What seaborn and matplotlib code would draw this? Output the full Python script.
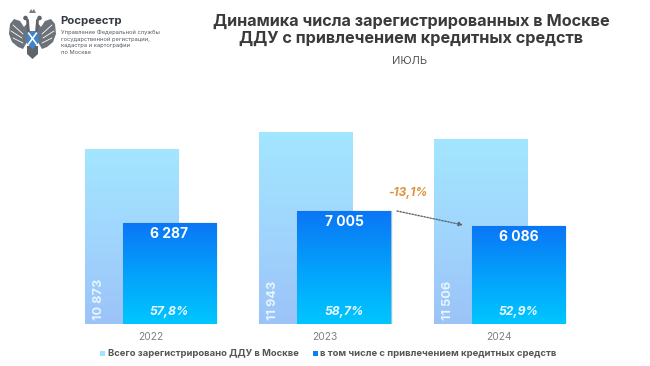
import numpy as np
import pandas as pd
import matplotlib
matplotlib.use('Agg')
import matplotlib.pyplot as plt
from matplotlib.colors import LinearSegmentedColormap
from matplotlib.patches import Polygon, Circle, Rectangle
import seaborn as sns

years = ['2022', '2023', '2024']
total = [10873, 11943, 11506]
credit = [6287, 7005, 6086]
total_labels = ['10 873', '11 943', '11 506']
credit_labels = ['6 287', '7 005', '6 086']
shares = ['57,8%', '58,7%', '52,9%']
change = '-13,1%'
name_total = 'Всего зарегистрировано ДДУ в Москве'
name_credit = 'в том числе с привлечением кредитных средств'

sns.set_theme(style='white')
plt.rcParams['font.family'] = ['Inter', 'DejaVu Sans']

W, H = 650, 366
fig = plt.figure(figsize=(6.5, 3.66), dpi=100)
# pixel-positioned plot area: categories every 174.5px, baseline at y=324
ax = fig.add_axes([63.25 / W, (H - 324) / H, 523.5 / W, 204 / H])

df = pd.DataFrame({
    'year': years * 2,
    'value': total + credit,
    'kind': [name_total] * 3 + [name_credit] * 3,
})
sns.barplot(data=df, x='year', y='value', hue='kind', dodge=True, width=0.4355,
            gap=-1.47, palette=['#a5e3ff', '#0a80f5'], legend=False, ax=ax,
            saturation=1, errorbar=None)
ax.set_ylim(0, 12670)
ax.set_xlim(-0.5, 2.5)
xl, yl = ax.get_xlim(), ax.get_ylim()

cm_light = LinearSegmentedColormap.from_list('l', ['#a3e6ff', '#a0d6fd', '#9cc3f8'])
cm_dark = LinearSegmentedColormap.from_list('d', ['#0a76f6', '#04a0fb', '#00c6ff'])
grad = np.linspace(0, 1, 128).reshape(-1, 1)
bars = [p for p in ax.patches if p.get_height() > 0]
for i, p in enumerate(bars):
    light = i < 3
    x0, x1 = p.get_x(), p.get_x() + p.get_width()
    z = 2 if light else 4
    p.set_zorder(z)
    if not light:
        p.set_edgecolor('#9cc0d6')
        p.set_linewidth(1.0)
    im = ax.imshow(grad, extent=[x0, x1, 0, p.get_height()], origin='upper', aspect='auto',
                   cmap=cm_light if light else cm_dark, zorder=z + 0.5)
    im.set_clip_path(p)
ax.set_xlim(xl)
ax.set_ylim(yl)

sns.despine(ax=ax, left=True, bottom=True)
ax.set_xlabel('')
ax.set_ylabel('')
ax.set_yticks([])
ax.tick_params(axis='x', length=0, pad=6, labelsize=7.4, labelcolor='#808080')

for i in range(3):
    light, dark = bars[i], bars[i + 3]
    ax.text(light.get_x() + light.get_width() * 0.15, 250, total_labels[i], rotation=90,
            ha='center', va='bottom', color='#e6f5ff', fontsize=9.2, fontweight='bold', zorder=6)
    cx = dark.get_x() + dark.get_width() / 2
    ax.text(cx, credit[i] - 690, credit_labels[i], ha='center', va='center', color='white',
            fontsize=10, fontweight='bold', zorder=6)
    ax.text(cx, 740, shares[i], ha='center', va='center', color='#e8f8ff', fontsize=8.8,
            fontweight='bold', fontstyle='italic', zorder=6)

# overlay in pixels for the header, logo, arrow and legend
ov = fig.add_axes([0, 0, 1, 1], zorder=10)
ov.set_xlim(0, W)
ov.set_ylim(H, 0)
ov.axis('off')
ov.patch.set_alpha(0)

ov.text(411, 21, 'Динамика числа зарегистрированных в Москве', ha='center', va='center',
        fontsize=11.7, fontweight='bold', color='#3a3a3a')
ov.text(411, 38, 'ДДУ с привлечением кредитных средств', ha='center', va='center',
        fontsize=11.7, fontweight='bold', color='#3a3a3a')
ov.text(410, 61, 'ИЮЛЬ', ha='center', va='center', fontsize=8, color='#555555')

ov.text(408, 193, change, ha='center', va='center', fontsize=8.5, fontweight='bold',
        fontstyle='italic', color='#e0923a')
ov.annotate('', xy=(463, 225), xytext=(397, 211),
            arrowprops=dict(arrowstyle='-|>', linestyle=(0, (1, 1.2)), color='#5c646c', lw=1,
                            mutation_scale=6, shrinkA=0, shrinkB=0))

# legend
ov.add_patch(Rectangle((100, 351), 5, 5, color='#a5e3ff', lw=0))
ov.text(107.5, 354, name_total, va='center', fontsize=6.8, fontweight='bold', color='#555555')
ov.add_patch(Rectangle((313, 351), 5, 5, color='#0a80f5', lw=0))
ov.text(320.5, 354, name_credit, va='center', fontsize=6.85, fontweight='bold', color='#555555')

# Rosreestr emblem, simplified
cx = 32.5
wing = [(28, 22), (24, 27), (20, 21), (14, 19), (10, 24), (9, 34), (12, 42), (18, 47), (23, 49), (27, 42)]
for pts in (wing, [(2 * cx - x, y) for x, y in wing]):
    ov.add_patch(Polygon(pts, closed=True, color='#6c7278', lw=0))
for s in (-1, 1):
    for x0, y0, x1, y1 in [(13, 25, 23, 34), (11, 31, 22, 38), (13, 38, 23, 43)]:
        ov.plot([cx + s * (cx - x0), cx + s * (cx - x1)], [y0, y1], color='white', lw=0.6)
    ov.add_patch(Circle((cx + s * 7, 18), 2.3, color='#5f6469', lw=0))
    ov.plot([cx + s * 5, cx + s * 4], [20, 32], color='#5f6469', lw=2)
ov.add_patch(Polygon([(27, 46), (38, 46), (38, 54), (32.5, 59), (27, 54)], closed=True,
                     color='#5f6469', lw=0))
ov.add_patch(Polygon([(29, 13), (31, 9), (32.5, 11), (34, 9), (36, 13)], closed=True,
                     color='#7a8086', lw=0))
ov.add_patch(Polygon([(26.5, 31), (38.5, 31), (38.5, 43), (32.5, 49), (26.5, 43)], closed=True,
                     color='#3f83c8', lw=0))
ov.plot([28.5, 36.5], [33, 44], color='white', lw=1.2)
ov.plot([36.5, 28.5], [33, 44], color='white', lw=1.2)

ov.text(60, 21, 'Росреестр', va='center', fontsize=8.2, fontweight='bold', color='#333a44')
for y, s in zip([32, 39, 46, 52.7], ['Управление Федеральной службы',
                                      'государственной регистрации,',
                                      'кадастра и картографии', 'по Москве']):
    ov.text(61, y, s, va='center', fontsize=4.15, color='#555a60')

fig.savefig('out.png', dpi=100)
